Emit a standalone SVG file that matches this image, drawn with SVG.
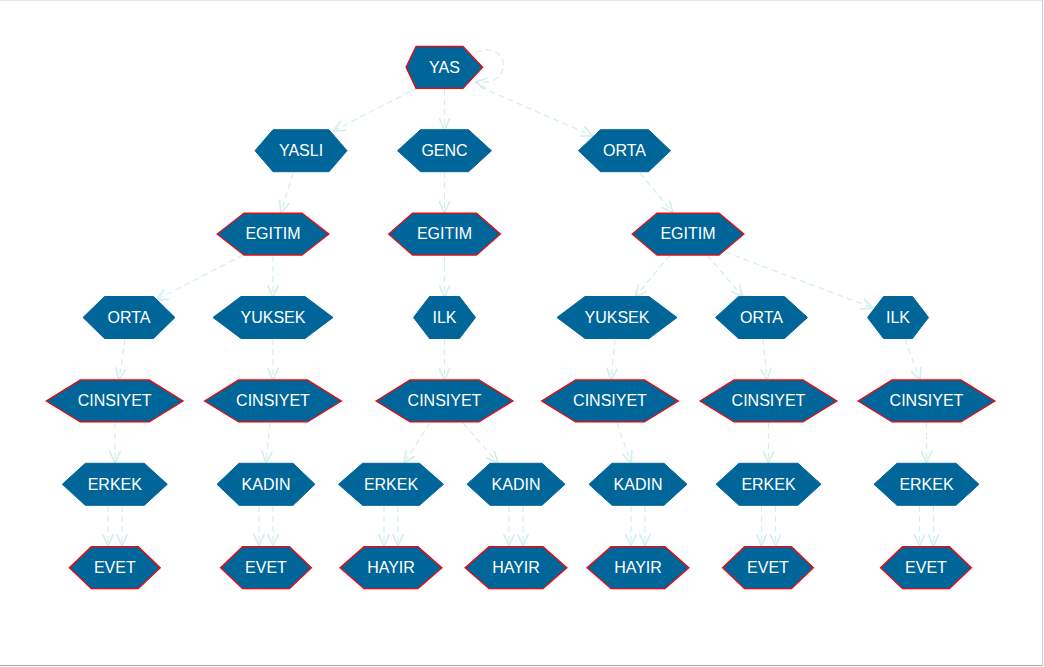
<svg xmlns="http://www.w3.org/2000/svg" width="1044" height="667" viewBox="0 0 1044 667">
<style>
.n{fill:#006699;stroke:#006699;stroke-width:1}
.r{stroke:#ff0000;stroke-width:1.2}
.t{fill:#ffffff;font-family:"Liberation Sans",Arial,sans-serif;font-size:16px;text-anchor:middle}
.e{fill:none;stroke:#d4eeee;stroke-width:1.2;stroke-dasharray:6,4;marker-end:url(#v)}
</style>
<defs>
<marker id="v" markerWidth="12" markerHeight="12" refX="10" refY="5" orient="auto" markerUnits="userSpaceOnUse" viewBox="0 0 10 10">
<path d="M0,0.5 L10,5 L0,9.5" fill="none" stroke="#d4eeee" stroke-width="1.4"/>
</marker>
</defs>
<rect x="0" y="0" width="1044" height="667" fill="#ffffff"/>
<line x1="0" y1="0.5" x2="1042" y2="0.5" stroke="#e6e6e6"/>
<line x1="0" y1="665.5" x2="1043" y2="665.5" stroke="#a8a8a8"/>
<line x1="1042.5" y1="0" x2="1042.5" y2="666" stroke="#c8c8c8"/>

<g id="edges">
<path class="e" d="M476,53 C492,44 506,56 503,68 C501,79 490,84 475,82"/>
<path class="e" d="M419,87 L333,131"/>
<path class="e" d="M444.5,89 L444.5,130"/>
<path class="e" d="M480,87 L593,136"/>
<path class="e" d="M293,173 L281,213"/>
<path class="e" d="M444.5,172 L444.5,213"/>
<path class="e" d="M640,173 L673,213"/>
<path class="e" d="M243,255 L156,300"/>
<path class="e" d="M273,256 L273,297"/>
<path class="e" d="M444.5,256 L444.5,297"/>
<path class="e" d="M670,255 L635,297"/>
<path class="e" d="M707,255 L743,297"/>
<path class="e" d="M725,252 L873,308"/>
<path class="e" d="M125,339 L119,380"/>
<path class="e" d="M273,339 L273,380"/>
<path class="e" d="M444.5,339 L444.5,380"/>
<path class="e" d="M615,339 L611,380"/>
<path class="e" d="M763,339 L767,380"/>
<path class="e" d="M905,339 L920,380"/>
<path class="e" d="M115,423 L115,463"/>
<path class="e" d="M270,423 L266,463"/>
<path class="e" d="M430,423 L404,463"/>
<path class="e" d="M463,423 L498,463"/>
<path class="e" d="M617,423 L631,463"/>
<path class="e" d="M768.5,423 L768.5,463"/>
<path class="e" d="M926.5,423 L926.5,463"/>
<path class="e" d="M108,506 L108,546"/>
<path class="e" d="M122,506 L122,546"/>
<path class="e" d="M259,506 L259,546"/>
<path class="e" d="M273,506 L273,546"/>
<path class="e" d="M384,506 L384,546"/>
<path class="e" d="M398,506 L398,546"/>
<path class="e" d="M509,506 L509,546"/>
<path class="e" d="M523,506 L523,546"/>
<path class="e" d="M631,506 L631,546"/>
<path class="e" d="M645,506 L645,546"/>
<path class="e" d="M761.5,506 L761.5,546"/>
<path class="e" d="M775.5,506 L775.5,546"/>
<path class="e" d="M919.5,506 L919.5,546"/>
<path class="e" d="M933.5,506 L933.5,546"/>
</g>

<g id="n_yas"><polygon class="n r" points="406,67.3 416,46.3 463,46.3 482.7,67.3 463,88.3 416,88.3"/><text class="t" x="444.5" y="72.5">YAS</text></g>

<g id="n_yasli"><polygon class="n" points="255,150.7 273,129.7 329,129.7 347,150.7 329,171.7 273,171.7"/><text class="t" x="301" y="156">YASLI</text></g>
<g id="n_genc"><polygon class="n" points="397.5,150.7 420.5,129.7 468.5,129.7 491.5,150.7 468.5,171.7 420.5,171.7"/><text class="t" x="444.5" y="156">GENC</text></g>
<g id="n_orta0"><polygon class="n" points="578.5,150.7 600.5,129.7 648.5,129.7 670.5,150.7 648.5,171.7 600.5,171.7"/><text class="t" x="624.5" y="156">ORTA</text></g>

<g id="n_egitim1"><polygon class="n r" points="217,234.1 244,213.1 302,213.1 329,234.1 302,255.1 244,255.1"/><text class="t" x="273" y="239.4">EGITIM</text></g>
<g id="n_egitim2"><polygon class="n r" points="388.5,234.1 412.5,213.1 476.5,213.1 500.5,234.1 476.5,255.1 412.5,255.1"/><text class="t" x="444.5" y="239.4">EGITIM</text></g>
<g id="n_egitim3"><polygon class="n r" points="632,234.1 657,213.1 719,213.1 744,234.1 719,255.1 657,255.1"/><text class="t" x="688" y="239.4">EGITIM</text></g>

<g id="n_orta1"><polygon class="n" points="83,317.5 104.5,296.5 153.5,296.5 175,317.5 153.5,338.5 104.5,338.5"/><text class="t" x="129" y="322.8">ORTA</text></g>
<g id="n_yuksek1"><polygon class="n" points="213,317.5 241,296.5 305,296.5 333,317.5 305,338.5 241,338.5"/><text class="t" x="273" y="322.8">YUKSEK</text></g>
<g id="n_ilk1"><polygon class="n" points="413.5,317.5 429.5,296.5 459.5,296.5 475.5,317.5 459.5,338.5 429.5,338.5"/><text class="t" x="444.5" y="322.8">ILK</text></g>
<g id="n_yuksek2"><polygon class="n" points="557,317.5 585,296.5 649,296.5 677,317.5 649,338.5 585,338.5"/><text class="t" x="617" y="322.8">YUKSEK</text></g>
<g id="n_orta2"><polygon class="n" points="715.5,317.5 738.5,296.5 784.5,296.5 807.5,317.5 784.5,338.5 738.5,338.5"/><text class="t" x="761.5" y="322.8">ORTA</text></g>
<g id="n_ilk2"><polygon class="n" points="867.5,317.5 883.5,296.5 912.5,296.5 928.5,317.5 912.5,338.5 883.5,338.5"/><text class="t" x="898" y="322.8">ILK</text></g>

<g id="n_cins1"><polygon class="n r" points="46.2,400.9 80.2,379.9 149.2,379.9 183.2,400.9 149.2,421.9 80.2,421.9"/><text class="t" x="114.7" y="406.2">CINSIYET</text></g>
<g id="n_cins2"><polygon class="n r" points="204.5,400.9 238.5,379.9 307.5,379.9 341.5,400.9 307.5,421.9 238.5,421.9"/><text class="t" x="273" y="406.2">CINSIYET</text></g>
<g id="n_cins3"><polygon class="n r" points="376,400.9 410,379.9 479,379.9 513,400.9 479,421.9 410,421.9"/><text class="t" x="444.5" y="406.2">CINSIYET</text></g>
<g id="n_cins4"><polygon class="n r" points="541.5,400.9 575.5,379.9 644.5,379.9 678.5,400.9 644.5,421.9 575.5,421.9"/><text class="t" x="610" y="406.2">CINSIYET</text></g>
<g id="n_cins5"><polygon class="n r" points="700,400.9 734,379.9 803,379.9 837,400.9 803,421.9 734,421.9"/><text class="t" x="768.5" y="406.2">CINSIYET</text></g>
<g id="n_cins6"><polygon class="n r" points="858,400.9 892,379.9 961,379.9 995,400.9 961,421.9 892,421.9"/><text class="t" x="926.5" y="406.2">CINSIYET</text></g>

<g id="n_erkek1"><polygon class="n" points="62.3,484.3 85.3,463.3 144.3,463.3 167.3,484.3 144.3,505.3 85.3,505.3"/><text class="t" x="114.8" y="489.6">ERKEK</text></g>
<g id="n_kadin1"><polygon class="n" points="217,484.3 239,463.3 293,463.3 315,484.3 293,505.3 239,505.3"/><text class="t" x="266" y="489.6">KADIN</text></g>
<g id="n_erkek2"><polygon class="n" points="338.5,484.3 362.5,463.3 419.5,463.3 443.5,484.3 419.5,505.3 362.5,505.3"/><text class="t" x="391" y="489.6">ERKEK</text></g>
<g id="n_kadin2"><polygon class="n" points="467,484.3 490,463.3 542,463.3 565,484.3 542,505.3 490,505.3"/><text class="t" x="516" y="489.6">KADIN</text></g>
<g id="n_kadin3"><polygon class="n" points="589,484.3 612,463.3 664,463.3 687,484.3 664,505.3 612,505.3"/><text class="t" x="638" y="489.6">KADIN</text></g>
<g id="n_erkek3"><polygon class="n" points="716,484.3 739,463.3 798,463.3 821,484.3 798,505.3 739,505.3"/><text class="t" x="768.5" y="489.6">ERKEK</text></g>
<g id="n_erkek4"><polygon class="n" points="874,484.3 897,463.3 956,463.3 979,484.3 956,505.3 897,505.3"/><text class="t" x="926.5" y="489.6">ERKEK</text></g>

<g id="n_evet1"><polygon class="n r" points="69.3,567.7 91.3,546.7 138.3,546.7 160.3,567.7 138.3,588.7 91.3,588.7"/><text class="t" x="114.8" y="573">EVET</text></g>
<g id="n_evet2"><polygon class="n r" points="220.5,567.7 242.5,546.7 289.5,546.7 311.5,567.7 289.5,588.7 242.5,588.7"/><text class="t" x="266" y="573">EVET</text></g>
<g id="n_hayir1"><polygon class="n r" points="340,567.7 364,546.7 418,546.7 442,567.7 418,588.7 364,588.7"/><text class="t" x="391" y="573">HAYIR</text></g>
<g id="n_hayir2"><polygon class="n r" points="465,567.7 489,546.7 543,546.7 567,567.7 543,588.7 489,588.7"/><text class="t" x="516" y="573">HAYIR</text></g>
<g id="n_hayir3"><polygon class="n r" points="587,567.7 611,546.7 665,546.7 689,567.7 665,588.7 611,588.7"/><text class="t" x="638" y="573">HAYIR</text></g>
<g id="n_evet3"><polygon class="n r" points="722.5,567.7 744.5,546.7 791.5,546.7 813.5,567.7 791.5,588.7 744.5,588.7"/><text class="t" x="768" y="573">EVET</text></g>
<g id="n_evet4"><polygon class="n r" points="880.5,567.7 902.5,546.7 949.5,546.7 971.5,567.7 949.5,588.7 902.5,588.7"/><text class="t" x="926" y="573">EVET</text></g>
</svg>
